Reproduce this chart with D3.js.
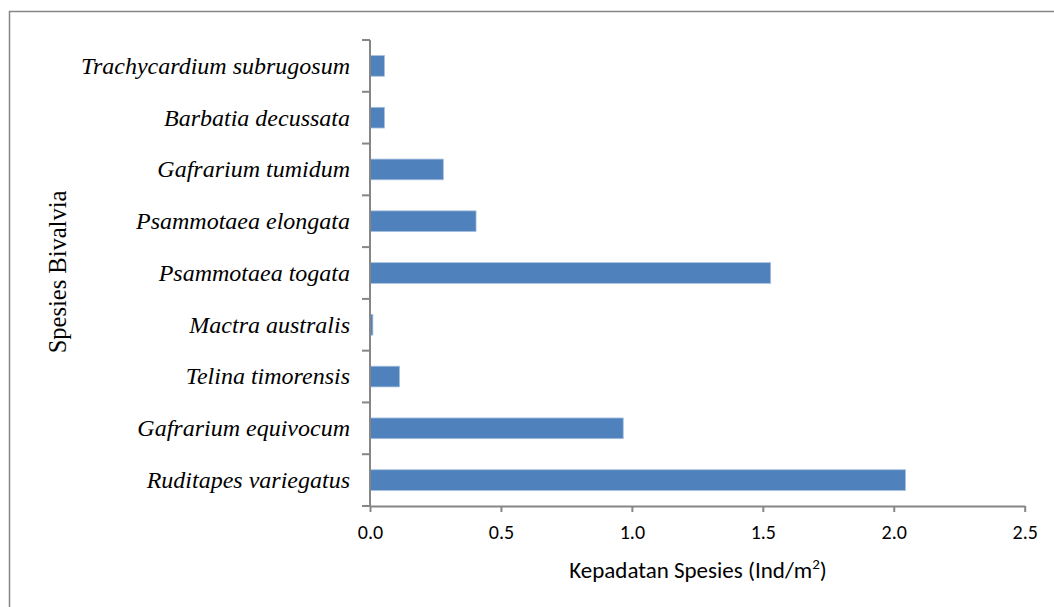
<!DOCTYPE html>
<html>
<head>
<meta charset="utf-8">
<script src="https://cdn.jsdelivr.net/npm/d3@7"></script>
<style>
  html, body { margin: 0; padding: 0; background: #fff; }
  svg { display: block; }
</style>
</head>
<body>
<svg id="chart" width="1054" height="607"></svg>
<script>
const species = [
  "Ruditapes variegatus",
  "Gafrarium equivocum",
  "Telina timorensis",
  "Mactra australis",
  "Psammotaea togata ",
  "Psammotaea elongata",
  "Gafrarium tumidum",
  "Barbatia decussata",
  "Trachycardium subrugosum"
];
const density = [2.045, 0.967, 0.113, 0.011, 1.53, 0.405, 0.28, 0.055, 0.055];
const xTicks = [0, 0.5, 1.0, 1.5, 2.0, 2.5];
const xTitle = "Kepadatan Spesies (Ind/m";
const yTitle = "Spesies Bivalvia";

(function () {
const svg = d3.select("#chart");
const axisColor = "#868686";
const sansFont = "Carlito, Lato, 'Liberation Sans', Arial, sans-serif";
const serifFont = "'Liberation Serif', 'Times New Roman', serif";

// outer chart border
svg.append("rect")
  .attr("x", 9.5).attr("y", 11.5)
  .attr("width", 1100).attr("height", 700)
  .attr("fill", "none").attr("stroke", axisColor).attr("stroke-width", 1.5);

const pLeft = 370, pRight = 1024.7, pTop = 40, pBottom = 506;

const x = d3.scaleLinear().domain([0, 2.5]).range([pLeft, pRight]);
const y = d3.scaleBand().domain(species.slice().reverse()).range([pTop, pBottom]).paddingInner(0.6).paddingOuter(0.3);

// bars
svg.append("g").selectAll("rect")
  .data(species.map((s, i) => ({ s, v: density[i] })))
  .join("rect")
  .attr("x", x(0))
  .attr("y", d => y(d.s))
  .attr("width", d => x(d.v) - x(0))
  .attr("height", y.bandwidth())
  .attr("fill", "#4F81BD")
  .attr("stroke", "#A7C0DE")
  .attr("stroke-width", 0.8);

// x axis
const xAxis = svg.append("g")
  .attr("transform", `translate(0,${pBottom})`)
  .call(d3.axisBottom(x).tickValues(xTicks).tickFormat(d3.format(".1f")).tickSize(6).tickSizeOuter(0));
xAxis.select(".domain").attr("stroke", axisColor).attr("stroke-width", 2);
xAxis.selectAll(".tick line").attr("stroke", axisColor).attr("stroke-width", 2);
xAxis.selectAll(".tick text")
  .attr("y", 33).attr("dy", 0)
  .attr("font-family", sansFont)
  .attr("font-size", 20).attr("fill", "#000");

// y axis: ticks at band boundaries
const yAxis = svg.append("g");
yAxis.append("line")
  .attr("x1", pLeft).attr("x2", pLeft).attr("y1", pTop).attr("y2", pBottom)
  .attr("stroke", axisColor).attr("stroke-width", 2);
const step = (pBottom - pTop) / species.length;
yAxis.selectAll("line.tk")
  .data(d3.range(species.length + 1))
  .join("line").attr("class", "tk")
  .attr("x1", pLeft - 8).attr("x2", pLeft)
  .attr("y1", i => pTop + i * step).attr("y2", i => pTop + i * step)
  .attr("stroke", axisColor).attr("stroke-width", 2);
yAxis.selectAll("text")
  .data(species)
  .join("text")
  .attr("x", pLeft - 20)
  .attr("y", d => y(d) + y.bandwidth() / 2)
  .attr("dy", "0.33em")
  .attr("text-anchor", "end")
  .attr("font-family", serifFont)
  .attr("font-style", "italic")
  .attr("font-size", 24)
  .attr("fill", "#000")
  .text(d => d);

// x title
const xt = svg.append("text")
  .attr("x", 698).attr("y", 578)
  .attr("text-anchor", "middle")
  .attr("font-family", sansFont)
  .attr("font-size", 23).attr("fill", "#000");
xt.append("tspan").text(xTitle);
xt.append("tspan").attr("dy", -9).attr("font-size", 15).text("2");
xt.append("tspan").attr("dy", 9).text(")");

// y title
svg.append("text")
  .attr("transform", "translate(66,272) rotate(-90)")
  .attr("text-anchor", "middle")
  .attr("font-family", serifFont)
  .attr("font-size", 24.5).attr("fill", "#000")
  .text(yTitle);
})();
</script>
</body>
</html>
